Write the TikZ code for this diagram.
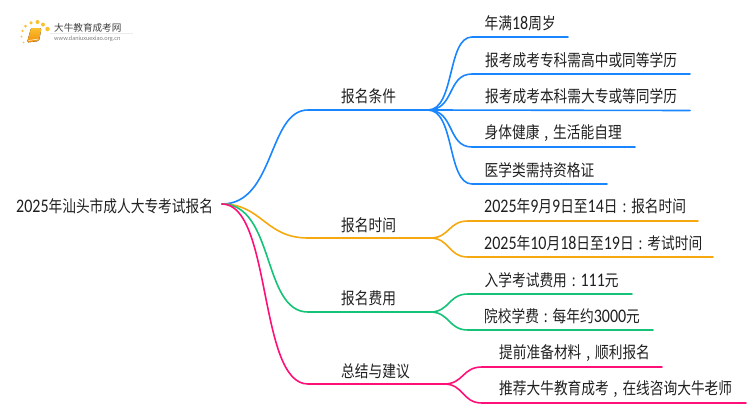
\documentclass[tikz,border=0pt]{standalone}
\usepackage{fontspec}
\setmainfont{Carlito}
\newfontfamily\cjk{Noto Sans CJK SC}
\usetikzlibrary{arrows,shapes}
\definecolor{textdark}{HTML}{1F1F1F}
\definecolor{blueline}{HTML}{1985FF}
\definecolor{orangeline}{HTML}{F5A90F}
\definecolor{greenline}{HTML}{14C377}
\definecolor{pinkline}{HTML}{FF0F78}
\definecolor{bookorange}{HTML}{F0900F}
\definecolor{dotyellow}{HTML}{FBC02D}
\newcommand{\dg}[1]{{\rmfamily\fontsize{16}{18}\selectfont #1}}
\newcommand{\cma}{\makebox[1em]{,}}
\newcommand{\cln}{\makebox[1em]{:}}

\begin{document}
\begin{tikzpicture}[x=1pt,y=-1pt]
  \tikzstyle{label}=[inner sep=0pt,anchor=west,text=textdark,yscale=1.2,transform shape,
                     font=\cjk\fontsize{13.7}{16}\selectfont]
  \tikzstyle{link}=[line width=1.6pt,line cap=round]
  \tikzstyle{spot}=[circle,inner sep=0pt,fill=dotyellow]
  \useasboundingbox (0,0) rectangle (750,410);
  % logo
  \begin{scope}
    \node [spot,minimum size=4.5pt] (d1) at (47.5,29) {};
    \node [spot,minimum size=4pt] (d2) at (43,24.5) {};
    \node [spot,minimum size=4pt] (d3) at (37.5,22) {};
    \node [spot,minimum size=3.5pt] (d4) at (31,22.8) {};
    \node [spot,minimum size=3pt] (d5) at (25.5,26) {};
    \node [spot,minimum size=2.5pt] (d6) at (22.5,30.8) {};
    \node [spot,minimum size=2pt] (d7) at (21.5,36.5) {};
    \node [spot,minimum size=1.8pt] (d8) at (23.5,42.5) {};
    \fill [rounded corners=1.5pt,top color=dotyellow,bottom color=bookorange]
      (31,28) -- (41.5,28) -- (39,41) -- (27,42.5) -- cycle;
    \draw [white,line width=.5pt] (28.5,40.5) -- (38.5,39);
    \node [inner sep=0pt,anchor=west,text=black!75,font=\cjk\fontsize{9.6}{11}\selectfont] (logotext) at (54,27.5) {大牛教育成考网};
    \node [inner sep=0pt,anchor=west,text=black!50,font=\rmfamily\fontsize{6.3}{8}\selectfont] (logourl) at (54,39) {www.daniuxuexiao.org.cn};
    \draw [black!8,line width=.5pt] (50,33.3) -- (133,33.3);
  \end{scope}
  % root
  \node [label] (root) at (16,206.5) {\dg{2025}年汕头市成人大专考试报名};
  \coordinate (rootend) at (222,204);
  % conditions
  \begin{scope}
    \coordinate (c) at (308,110);
    \coordinate (cf) at (428,110);
    \node [label] (cname) at (341,96.5) {报名条件};
    \node [label] (c1) at (484.5,23.5) {年满\dg{18}周岁};
    \node [label] (c2) at (485,60) {报考成考专科需高中或同等学历};
    \node [label] (c3) at (485,96.5) {报考成考本科需大专或等同学历};
    \node [label] (c4) at (484.5,133.5) {身体健康\cma 生活能自理};
    \node [label] (c5) at (484.5,170) {医学类需持资格证};
    \coordinate (c1s) at (472,37); \coordinate (c1e) at (568,37);
    \coordinate (c2s) at (472,74); \coordinate (c2e) at (690,74);
    \coordinate (c3e) at (690,110.5);
    \coordinate (c4s) at (472,147); \coordinate (c4e) at (635,147);
    \coordinate (c5s) at (472,184); \coordinate (c5e) at (607,184);
    \draw [link,blueline] (rootend) .. controls (275,204) and (268,110) .. (c) -- (cf);
    \draw [link,blueline] (cf) .. controls (455,110) and (447,37) .. (c1s) -- (c1e);
    \draw [link,blueline] (cf) .. controls (455,110) and (447,74) .. (c2s) -- (c2e);
    \draw [link,blueline] (cf) -- (c3e);
    \draw [link,blueline] (cf) .. controls (455,110) and (447,147) .. (c4s) -- (c4e);
    \draw [link,blueline] (cf) .. controls (455,110) and (447,184) .. (c5s) -- (c5e);
  \end{scope}
  % dates
  \begin{scope}
    \coordinate (t) at (308,238);
    \coordinate (tf) at (430,238);
    \node [label] (tname) at (341,225) {报名时间};
    \node [label] (t1) at (484,206.5) {\dg{2025}年\dg{9}月\dg{9}日至\dg{14}日\cln 报名时间};
    \node [label] (t2) at (484,243) {\dg{2025}年\dg{10}月\dg{18}日至\dg{19}日\cln 考试时间};
    \coordinate (t1s) at (468,221); \coordinate (t1e) at (698,221);
    \coordinate (t2s) at (468,257); \coordinate (t2e) at (713,257);
    \draw [link,orangeline] (rootend) .. controls (262,204) and (265,238) .. (t) -- (tf);
    \draw [link,orangeline] (tf) .. controls (450,238) and (448,221) .. (t1s) -- (t1e);
    \draw [link,orangeline] (tf) .. controls (450,238) and (448,257) .. (t2s) -- (t2e);
  \end{scope}
  % fees
  \begin{scope}
    \coordinate (f) at (308,312);
    \coordinate (ff) at (430,312);
    \node [label] (fname) at (341,298.5) {报名费用};
    \node [label] (f1) at (484.5,280) {入学考试费用\cln\dg{111}元};
    \node [label] (f2) at (484,316.5) {院校学费\cln 每年约\dg{3000}元};
    \coordinate (f1s) at (468,294); \coordinate (f1e) at (632,294);
    \coordinate (f2s) at (468,330); \coordinate (f2e) at (653,330);
    \draw [link,greenline] (rootend) .. controls (275,204) and (262,312) .. (f) -- (ff);
    \draw [link,greenline] (ff) .. controls (450,312) and (448,294) .. (f1s) -- (f1e);
    \draw [link,greenline] (ff) .. controls (450,312) and (448,330) .. (f2s) -- (f2e);
  \end{scope}
  % advice
  \begin{scope}
    \coordinate (a) at (308,384);
    \coordinate (af) at (444,384);
    \node [label] (aname) at (341,371) {总结与建议};
    \node [label] (a1) at (499,353) {提前准备材料\cma 顺利报名};
    \node [label] (a2) at (499,389.5) {推荐大牛教育成考\cma 在线咨询大牛老师};
    \coordinate (a1s) at (482,367); \coordinate (a1e) at (662,367);
    \coordinate (a2s) at (482,403); \coordinate (a2e) at (746,403);
    \draw [link,pinkline] (rootend) .. controls (272,204) and (258,384) .. (a) -- (af);
    \draw [link,pinkline] (af) .. controls (464,384) and (462,367) .. (a1s) -- (a1e);
    \draw [link,pinkline] (af) .. controls (464,384) and (462,403) .. (a2s) -- (a2e);
  \end{scope}
\end{tikzpicture}
\end{document}
